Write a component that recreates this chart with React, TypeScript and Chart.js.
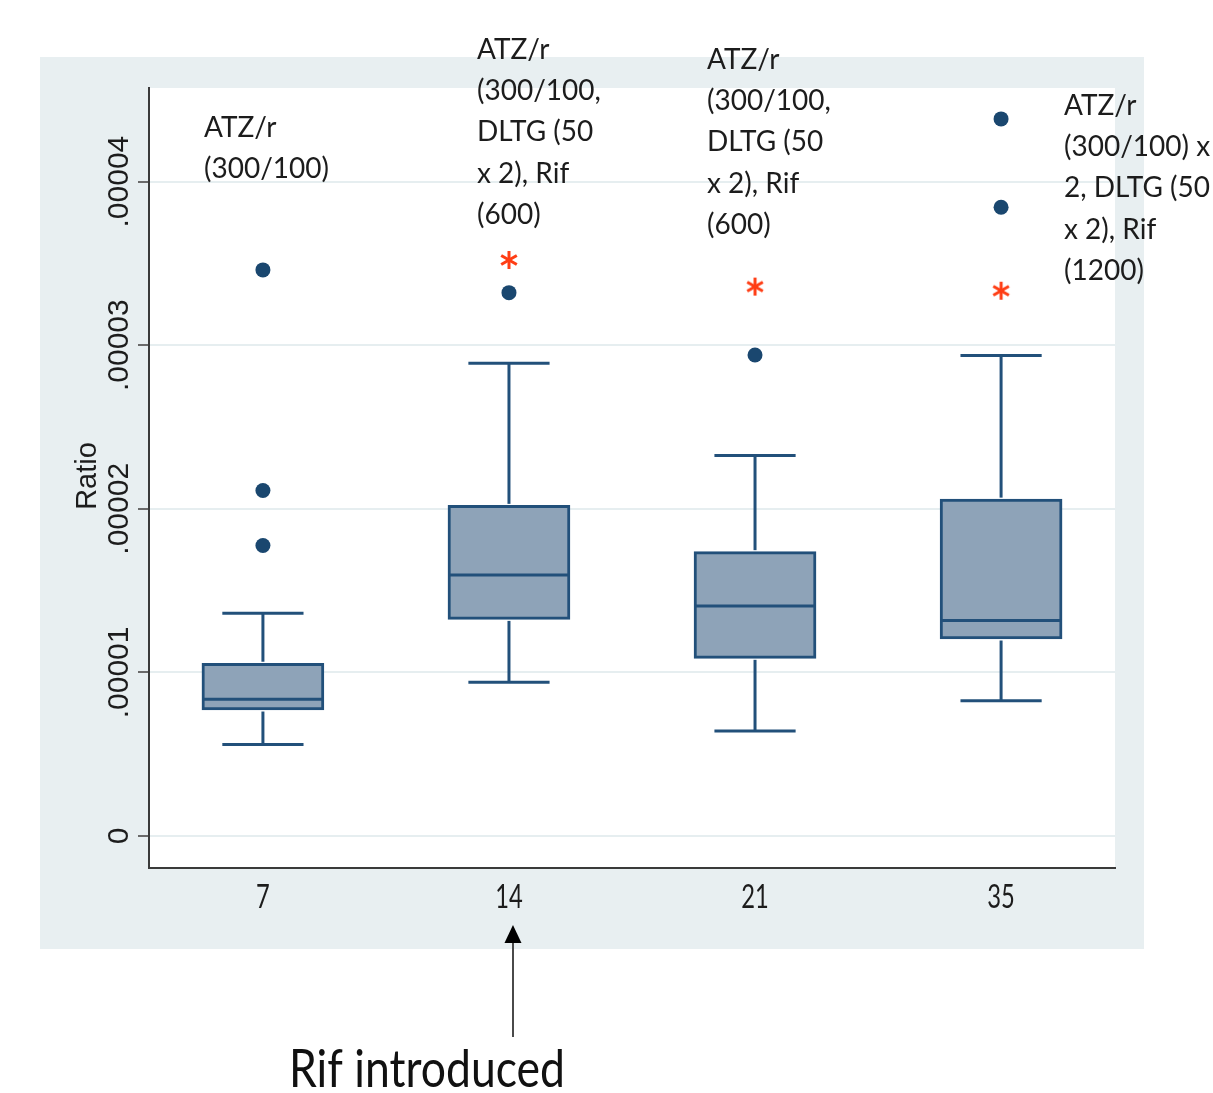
import React, { useEffect, useRef } from "react";
import { Chart, registerables } from "chart.js";

Chart.register(...registerables);

// ---------- data ----------
const categories = ["7", "14", "21", "35"];
const whiskerLow = [0.56e-5, 0.939e-5, 0.642e-5, 0.826e-5];
const quartile1 = [0.77e-5, 1.324e-5, 1.086e-5, 1.204e-5];
const medians = [0.836e-5, 1.595e-5, 1.406e-5, 1.317e-5];
const quartile3 = [1.056e-5, 2.021e-5, 1.738e-5, 2.059e-5];
const whiskerHigh = [1.361e-5, 2.889e-5, 2.325e-5, 2.937e-5];

const outlierGroup = [0, 0, 0, 1, 2, 3, 3];
const outlierValue = [1.776e-5, 2.112e-5, 3.46e-5, 3.321e-5, 2.94e-5, 3.843e-5, 4.383e-5];

const starGroup = [1, 2, 3];
const starValue = [3.521e-5, 3.358e-5, 3.333e-5];

const yTickValues = [0, 1e-5, 2e-5, 3e-5, 4e-5];
const yTickLabels = ["0", ".00001", ".00002", ".00003", ".00004"];
const yTitle = "Ratio";

const annotationText = [
  ["ATZ/r", "(300/100)"],
  ["ATZ/r", "(300/100,", "DLTG (50", "x 2), Rif", "(600)"],
  ["ATZ/r", "(300/100,", "DLTG (50", "x 2), Rif", "(600)"],
  ["ATZ/r", "(300/100) x", "2, DLTG (50", "x 2), Rif", "(1200)"],
];
const arrowNote = "Rif introduced";

// ---------- layout / style (not data) ----------
const W = 1213;
const H = 1093;
const annotationPos = [
  { x: 204, y: 137 },
  { x: 477, y: 59 },
  { x: 707, y: 69 },
  { x: 1064, y: 115 },
];
const LINE_H = 41.2;
const NAVY = "#1a476f";
const BOX_LINE = "#22507a";
const BOX_FILL = "#8ea3b8";
const PANEL = "#e8eff1";
const GRID = "#e6eef0";
const TEXT = "#1c1c1c";

function makeAsterisk(): HTMLCanvasElement {
  const c = document.createElement("canvas");
  c.width = 22;
  c.height = 22;
  const g = c.getContext("2d")!;
  g.strokeStyle = "#ff3d14";
  g.lineWidth = 3;
  g.lineCap = "butt";
  const r = 9;
  [90, 30, 150].forEach((deg) => {
    const a = (deg * Math.PI) / 180;
    g.beginPath();
    g.moveTo(11 - r * Math.cos(a), 11 - r * Math.sin(a));
    g.lineTo(11 + r * Math.cos(a), 11 + r * Math.sin(a));
    g.stroke();
  });
  return c;
}

const backgroundPlugin = {
  id: "panelBackground",
  beforeDraw(chart: any) {
    const { ctx, chartArea } = chart;
    ctx.save();
    ctx.fillStyle = "#ffffff";
    ctx.fillRect(0, 0, W, H);
    ctx.fillStyle = PANEL;
    ctx.fillRect(40, 57, 1104, 892);
    ctx.fillStyle = "#ffffff";
    ctx.fillRect(chartArea.left, chartArea.top, chartArea.right - chartArea.left, chartArea.bottom - chartArea.top);
    ctx.restore();
  },
};

const whiskerPlugin = {
  id: "boxWhiskers",
  afterDatasetsDraw(chart: any) {
    const { ctx } = chart;
    const x = chart.scales.x;
    const y = chart.scales.y;
    const meta = chart.getDatasetMeta(0);
    ctx.save();
    ctx.strokeStyle = BOX_LINE;
    ctx.lineWidth = 3;
    const seg = (x1: number, y1: number, x2: number, y2: number) => {
      ctx.beginPath();
      ctx.moveTo(x1, y1);
      ctx.lineTo(x2, y2);
      ctx.stroke();
    };
    categories.forEach((_, i) => {
      const cx = x.getPixelForValue(i);
      const capL = x.getPixelForValue(i - 0.165);
      const capR = x.getPixelForValue(i + 0.165);
      const bar = meta.data[i];
      const half = bar.width / 2;
      const yLow = y.getPixelForValue(whiskerLow[i]);
      const yQ1 = y.getPixelForValue(quartile1[i]);
      const yMed = y.getPixelForValue(medians[i]);
      const yQ3 = y.getPixelForValue(quartile3[i]);
      const yHigh = y.getPixelForValue(whiskerHigh[i]);
      seg(cx, yQ3 - 1.5, cx, yHigh);
      seg(capL, yHigh, capR, yHigh);
      seg(cx, yQ1 + 1.5, cx, yLow);
      seg(capL, yLow, capR, yLow);
      seg(bar.x - half + 1.5, yMed, bar.x + half - 1.5, yMed);
    });
    ctx.restore();
  },
};

function scaledText(ctx: CanvasRenderingContext2D, t: string, px: number, py: number, sx: number) {
  ctx.save();
  ctx.translate(px, py);
  ctx.scale(sx, 1);
  ctx.fillText(t, 0, 0);
  ctx.restore();
}

const textPlugin = {
  id: "texts",
  afterDraw(chart: any) {
    const { ctx } = chart;
    const x = chart.scales.x;
    const y = chart.scales.y;
    ctx.save();
    ctx.fillStyle = TEXT;

    // y tick labels (rotated)
    ctx.font = '30px "Liberation Sans", Arial, sans-serif';
    ctx.textAlign = "center";
    ctx.textBaseline = "alphabetic";
    yTickValues.forEach((v, i) => {
      const py = y.getPixelForValue(v);
      ctx.save();
      ctx.translate(128, py);
      ctx.rotate(-Math.PI / 2);
      ctx.fillText(yTickLabels[i], 0, 0);
      ctx.restore();
    });

    // y title
    ctx.font = '29px "Liberation Sans", Arial, sans-serif';
    ctx.save();
    ctx.translate(96, (chart.chartArea.top + chart.chartArea.bottom) / 2 - 2);
    ctx.rotate(-Math.PI / 2);
    ctx.fillText(yTitle, 0, 0);
    ctx.restore();

    // x tick labels
    ctx.font = '33px Lato, "Open Sans", sans-serif';
    ctx.textAlign = "center";
    categories.forEach((c, i) => {
      const px = x.getPixelForValue(i);
      scaledText(ctx, c, px, 908, 0.72);
    });

    // annotations
    ctx.font = '28px Lato, "Open Sans", sans-serif';
    ctx.textAlign = "left";
    annotationText.forEach((lines, g) => {
      const p = annotationPos[g];
      lines.forEach((ln, k) => {
        ctx.fillText(ln, p.x, p.y + k * LINE_H);
      });
    });

    // arrow
    const ax = x.getPixelForValue(1) + 4;
    ctx.strokeStyle = "#4a4a4a";
    ctx.lineWidth = 2;
    ctx.beginPath();
    ctx.moveTo(ax, 1037);
    ctx.lineTo(ax, 940);
    ctx.stroke();
    ctx.fillStyle = "#000000";
    ctx.beginPath();
    ctx.moveTo(ax, 925);
    ctx.lineTo(ax - 8.5, 943);
    ctx.lineTo(ax + 8.5, 943);
    ctx.closePath();
    ctx.fill();

    // note
    ctx.fillStyle = "#111111";
    ctx.font = '53px Lato, "Open Sans", sans-serif';
    ctx.textAlign = "left";
    scaledText(ctx, arrowNote, 289, 1087, 0.84);

    ctx.restore();
  },
};

export default function App() {
  const ref = useRef<HTMLCanvasElement | null>(null);

  useEffect(() => {
    const canvas = ref.current;
    if (!canvas) return;
    const chart = new Chart(canvas, {
      type: "bar",
      data: {
        datasets: [
          {
            type: "bar",
            data: categories.map((_, i) => ({ x: i, y: [quartile1[i], quartile3[i]] })) as any,
            backgroundColor: BOX_FILL,
            borderColor: BOX_LINE,
            borderWidth: 3,
            borderSkipped: false,
            barThickness: 122,
            order: 3,
          } as any,
          {
            type: "scatter",
            data: outlierValue.map((v, k) => ({ x: outlierGroup[k], y: v })),
            pointRadius: 7.5,
            pointBackgroundColor: NAVY,
            pointBorderWidth: 0,
            order: 1,
          } as any,
          {
            type: "scatter",
            data: starValue.map((v, k) => ({ x: starGroup[k], y: v })),
            pointStyle: makeAsterisk(),
            pointRadius: 10,
            order: 0,
          } as any,
        ],
      },
      options: {
        responsive: false,
        animation: false,
        devicePixelRatio: 1,
        layout: { padding: { left: 0, top: 88, right: 98, bottom: 225 } },
        plugins: { legend: { display: false }, tooltip: { enabled: false } },
        events: [],
        scales: {
          x: {
            type: "linear",
            offset: false,
            min: -0.463,
            max: 3.463,
            afterBuildTicks: (s: any) => {
              s.ticks = categories.map((_, i) => ({ value: i }));
            },
            afterFit: (s: any) => {
              s.height = 0;
            },
            grid: { display: false, offset: false },
            ticks: { display: false },
            border: { display: true, color: "#3a3a3a", width: 2 },
          },
          y: {
            type: "linear",
            min: -0.1956e-5,
            max: 4.572e-5,
            afterBuildTicks: (s: any) => {
              s.ticks = yTickValues.map((v) => ({ value: v }));
            },
            afterFit: (s: any) => {
              s.width = 149;
            },
            ticks: { display: false },
            grid: { color: GRID, lineWidth: 2, tickColor: "#6a6a6a", tickLength: 11, drawTicks: true },
            border: { display: true, color: "#3a3a3a", width: 2 },
          },
        },
      } as any,
      plugins: [backgroundPlugin, whiskerPlugin, textPlugin],
    });
    return () => chart.destroy();
  }, []);

  return (
    <div style={{ position: "absolute", left: 0, top: 0, width: W, height: H }}>
      <canvas ref={ref} width={W} height={H} style={{ width: W, height: H, display: "block" }} />
    </div>
  );
}
